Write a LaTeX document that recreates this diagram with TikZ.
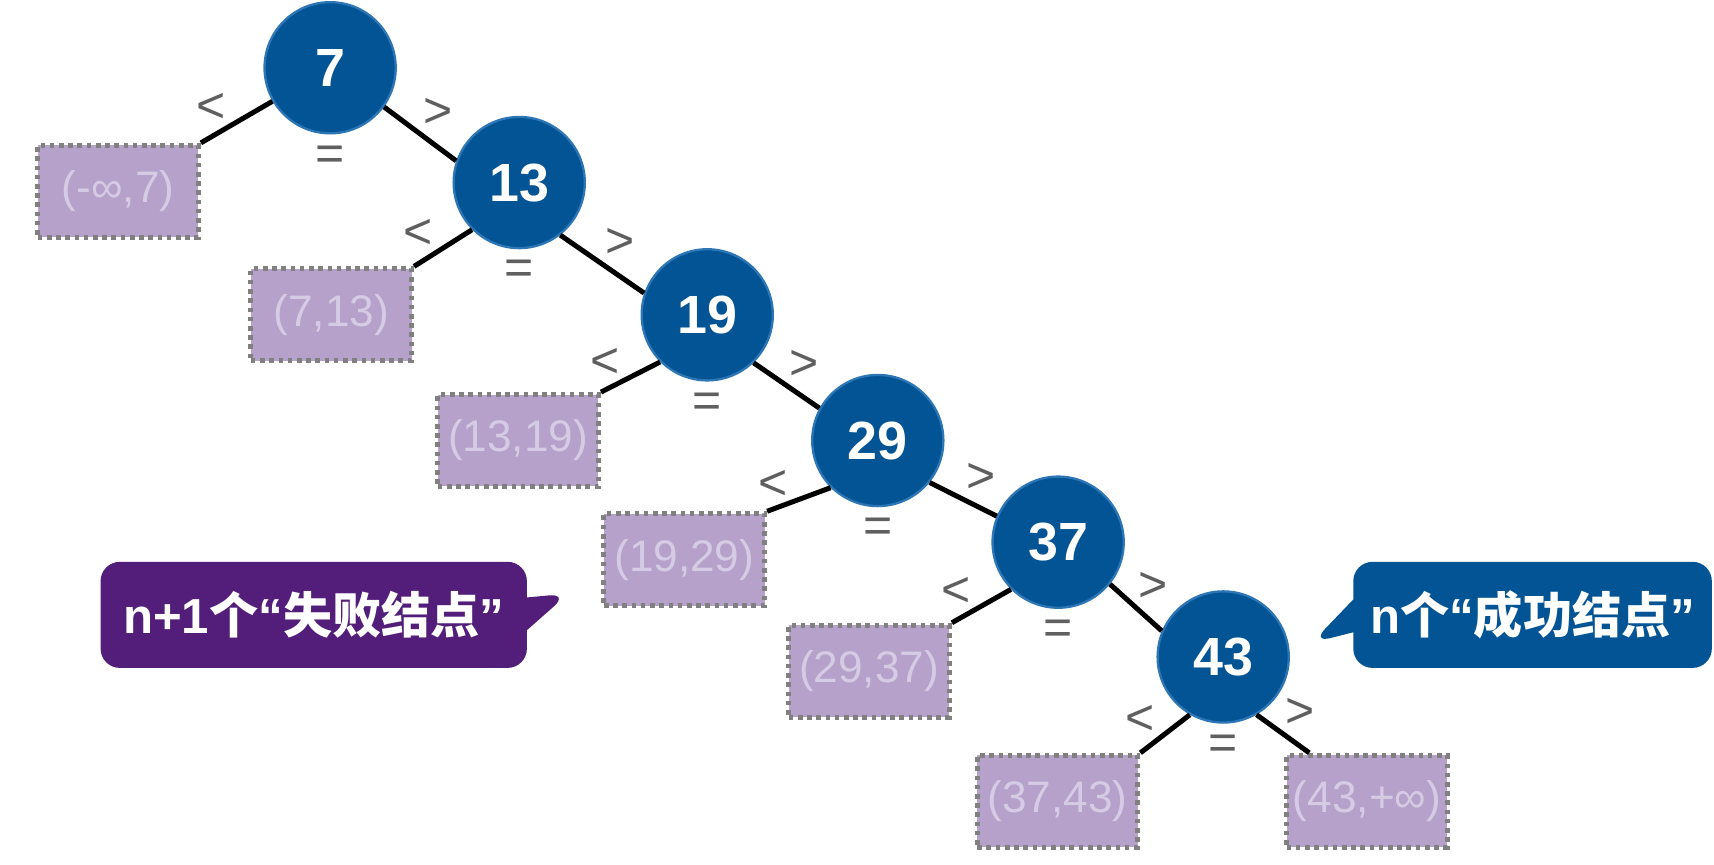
\documentclass[tikz,border=0pt]{standalone}
\usepackage{fontspec}
\setsansfont{Liberation Sans}
\newfontfamily\cjk{Noto Sans CJK SC}
\usetikzlibrary{shapes,shapes.callouts,positioning,calc}
\definecolor{nodeblue}{RGB}{3,84,148}
\definecolor{rimblue}{RGB}{45,118,182}
\definecolor{failfill}{RGB}{181,161,202}
\definecolor{failtext}{RGB}{214,203,228}
\definecolor{cmpgray}{RGB}{95,95,95}
\definecolor{failpurple}{RGB}{82,30,122}
\newcommand{\lat}[1]{{\sffamily #1}}
\tikzset{
  level 1/.style={level distance=1.05cm, sibling distance=3.46cm},
  level 2/.style={level distance=1.21cm, sibling distance=3.44cm},
  level 3/.style={level distance=1.15cm, sibling distance=3.12cm},
  level 4/.style={level distance=0.93cm, sibling distance=3.30cm},
  level 5/.style={level distance=1.05cm, sibling distance=3.02cm},
  level 6/.style={level distance=1.32cm, sibling distance=2.83cm},
  edge from parent/.style={draw, black, line width=1.3pt},
  treenode/.style = {align=center, inner sep=0pt, text centered, font=\sffamily},
  bst_n/.style = {treenode, circle, white, font=\sffamily\bfseries\fontsize{14}{16}\selectfont, draw=rimblue, line width=0.6pt, fill=nodeblue, minimum size=1.2cm},
  bst_f/.style = {treenode, rectangle, text=failtext, font=\sffamily\fontsize{11.5}{13}\selectfont, draw=gray, line width=1.3pt, dash pattern=on 1.2pt off 1.2pt, fill=failfill, minimum width=1.47cm, minimum height=0.84cm},
  bst_c/.style = {treenode, text=cmpgray, font=\sffamily\fontsize{13}{15}\selectfont, inner sep=1pt},
  cmp_lt/.style = {bst_c, above left, xshift=-0.4mm, yshift=-0.6mm},
  cmp_gt/.style = {bst_c, above right, xshift=-0.3mm},
  fail_e/.style = {parent anchor=225, child anchor=north east},
  note/.style = {rectangle callout, rounded corners=5pt, text=white, font=\cjk\bfseries\fontsize{12.8}{15}\selectfont, minimum height=0.97cm, callout pointer width=0.3cm, inner sep=0pt}
}
\begin{document}
\begin{tikzpicture}
\useasboundingbox (0,0) rectangle (15.68,7.91);
\node [bst_n] (n7) at (3.02,7.29) {7}
	child[child anchor=north east]{ node [bst_f, xshift=-2.1mm, yshift=-0.8mm] (f0) {(-∞,7)}
		edge from parent node [cmp_lt] {<}
	}
	child[parent anchor=-36, child anchor=161]{ node [bst_n] (n13) {13}
		child[fail_e]{ node [bst_f] (f1) {(7,13)}
			edge from parent node [cmp_lt] {<}
			}
		child[parent anchor=-52, child anchor=161]{ node [bst_n] (n19) {19}
			child[fail_e]{ node [bst_f, xshift=-1.7mm] (f2) {(13,19)}
				edge from parent node [cmp_lt] {<}
				}
			child[parent anchor=-46, child anchor=151]{ node [bst_n] (n29) {29}
				child[fail_e]{ node [bst_f, xshift=-1.2mm, yshift=-1.6mm] (f3) {(19,29)}
					edge from parent node [cmp_lt] {<}
					}
				child[parent anchor=-39, child anchor=157]{ node [bst_n] (n37) {37}
					child[fail_e]{ node [bst_f, xshift=-2.2mm, yshift=-1.3mm] (f4) {(29,37)}
						edge from parent node [cmp_lt] {<}
						}
					child{ node [bst_n] (n43) {43}
						child[fail_e, parent anchor=240]{ node [bst_f, xshift=-1mm] (f5) {(37,43)}
							edge from parent node [cmp_lt] {<}
							}
						child[parent anchor=-60, child anchor=140]{ node [bst_f, xshift=-1mm] (f6) {(43,+∞)}
							edge from parent node [cmp_gt] {>}
							}
						edge from parent node [cmp_gt] {>}
						}
					edge from parent node [cmp_gt] {>}
					}
				edge from parent node [cmp_gt] {>}
				}
			edge from parent node [cmp_gt] {>}
			}
		edge from parent node [cmp_gt] {>}
	};
\foreach \v in {7,13,19,29,37,43}
	\node [bst_c, below=0.6mm of n\v] (eq\v) {=};
\coordinate (tip_f) at (5.20,2.48);
\coordinate (tip_s) at (12.00,2.03);
\node [note, fill=failpurple, minimum width=3.9cm, callout absolute pointer={(tip_f)}] (c_fail) at (2.87,2.285) {\lat{n+1}个\lat{“}失败结点\lat{”}};
\node [note, fill=nodeblue, minimum width=3.28cm, callout absolute pointer={(tip_s)}] (c_succ) at (14.02,2.285) {\lat{n}个\lat{“}成功结点\lat{”}};
\end{tikzpicture}
\end{document}
